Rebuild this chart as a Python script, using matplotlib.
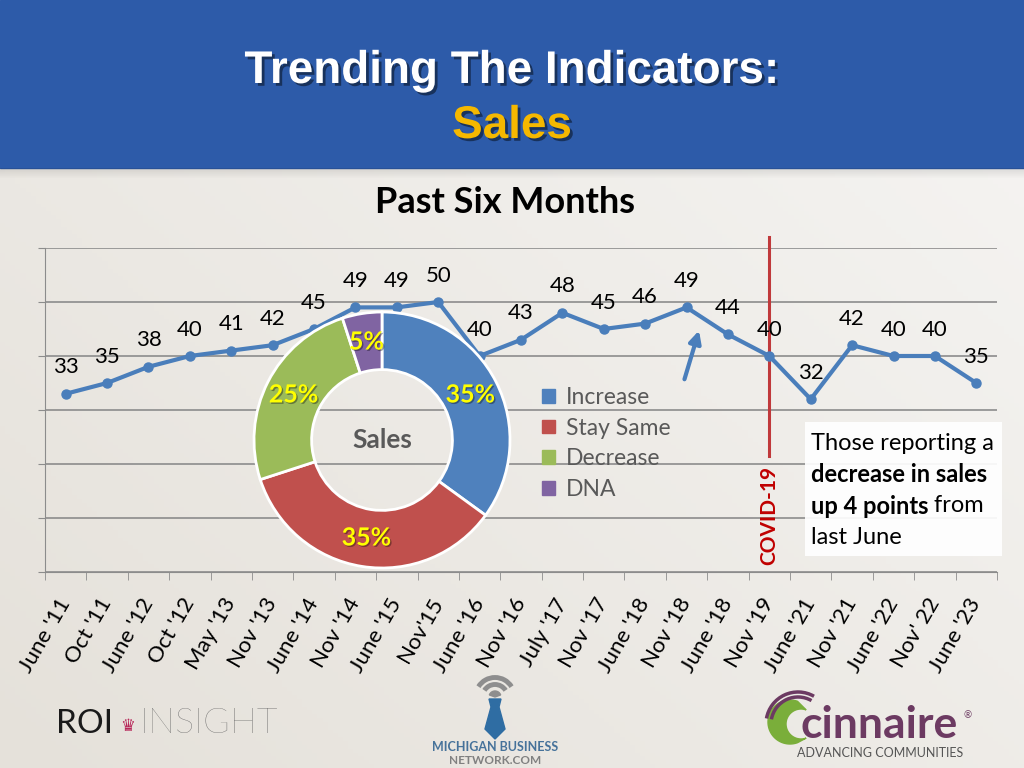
import numpy as np
import matplotlib.pyplot as plt
import matplotlib.patches as mpatches
import matplotlib.patheffects as pe
import matplotlib.transforms as mtransforms
from matplotlib.colors import LinearSegmentedColormap

# Data
periods = ["June '11", "Oct '11", "June '12", "Oct '12", "May '13", "Nov '13",
           "June '14", "Nov '14", "June '15", "Nov'15", "June '16", "Nov '16",
           "July '17", "Nov '17", "June '18", "Nov '18", "June '18", "Nov '19",
           "June '21", "Nov '21", "June '22", "Nov' 22", "June '23"]
increase_pct = [33, 35, 38, 40, 41, 42, 45, 49, 49, 50, 40, 43, 48, 45, 46,
                49, 44, 40, 32, 42, 40, 40, 35]

donut_names = ["Increase", "Stay Same", "Decrease", "DNA"]
donut_pct = [35, 35, 25, 5]
donut_colors = ["#4F81BD", "#C0504D", "#9BBB59", "#8064A2"]

covid_at = "Nov '19"

plt.rcParams['font.family'] = ['Lato', 'DejaVu Sans']
W, H = 1024, 768
fig = plt.figure(figsize=(W/100, H/100), dpi=100)

# slide background, header and logos (pixel coords)
bg = fig.add_axes([0, 0, 1, 1], zorder=-10)
bg.set_xlim(0, W)
bg.set_ylim(H, 0)
bg.axis('off')
yy, xx = np.mgrid[0:1:200j, 0:1:200j]
cmap_bg = LinearSegmentedColormap.from_list('bg', ['#E5E1DA', '#F6F5F3'])
bg.imshow(0.55*xx + 0.45*(1-yy), cmap=cmap_bg, extent=(0, W, H, 0), aspect='auto')

bg.add_patch(mpatches.Rectangle((0, 0), W, 168, color='#2D5BA9'))
for i in range(10):
    bg.add_patch(mpatches.Rectangle((0, 168+i), W, 1, color='black', lw=0, alpha=0.10*(1-i/10)))

shadow = [pe.withSimplePatchShadow(offset=(2, -2), shadow_rgbFace='black', alpha=0.45)]
bg.text(512, 83, 'Trending The Indicators:', family='Liberation Sans', weight='bold',
        size=33, color='white', ha='center', va='baseline', path_effects=shadow)
bg.text(512, 138, 'Sales', family='Liberation Sans', weight='bold',
        size=33, color='#F5B800', ha='center', va='baseline', path_effects=shadow)
bg.text(505, 213, 'Past Six Months', weight='bold', size=26, color='black',
        ha='center', va='baseline')

# ROI insight
bg.text(56, 733, 'ROI', size=24, color='#1a1a1a', va='baseline')
bg.text(128, 731, '\u265B', family='DejaVu Sans', size=12, color='#B8285A', ha='center', va='baseline')
bg.text(140, 733, 'INSIGHT', size=26, weight='light', color='#5f5f5f', va='baseline')

# michigan business network
bg.add_patch(mpatches.Wedge((495, 697), 6, 200, 340, color='#8E8E8E'))
for r in [12.5, 19.5]:
    bg.add_patch(mpatches.Arc((495, 697), 2*r, 2*r, theta1=212, theta2=328, color='#8E8E8E', lw=3.5))
tie = [(489, 699), (501, 699), (499, 707), (505, 729), (495, 739), (485, 729), (491, 707)]
bg.add_patch(mpatches.Polygon(tie, closed=True, color='#2F6DA3'))
bg.text(495, 747, 'MICHIGAN BUSINESS', size=9, weight='bold', color='#46729A', ha='center', va='center')
bg.text(495, 760, 'NETWORK.COM', size=8.5, weight='bold', color='#808080', ha='center', va='center')

# cinnaire
th = np.radians(np.linspace(70, 290, 60))
outer = np.c_[790 + 22*np.cos(th), 722 - 22*np.sin(th)]
inner = np.c_[801 + 15*np.cos(th[::-1]), 724 - 15*np.sin(th[::-1])]
bg.add_patch(mpatches.Polygon(np.r_[outer, inner], closed=True, color='#7AAE3A'))
for r in [27, 32]:
    bg.add_patch(mpatches.Arc((798, 724), 2*r, 2*r, theta1=190, theta2=300, color='#6C3A62', lw=2.5))
bg.text(800, 738, 'cinnaire', size=32, weight='bold', color='#6C3A62', va='baseline')
bg.text(964, 716, '\u00AE', size=7, color='#6C3A62', va='center')
bg.text(880, 753, 'ADVANCING COMMUNITIES', size=9, color='#555555', ha='center', va='center')

# line chart
ax = fig.add_axes([45/W, 1-572/H, 952/W, 324/H])
ax.patch.set_alpha(0)
x = np.arange(len(periods))
ax.plot(x, increase_pct, color='#4A7EBB', lw=3, marker='o', ms=6.5, zorder=3)
for xi, v in zip(x, increase_pct):
    ax.annotate(str(v), (xi, v), xytext=(0, 19), textcoords='offset points',
                ha='center', va='center', fontsize=16, color='black')
ax.set_xlim(-0.5, len(periods)-0.5)
ax.set_ylim(0, 60)
ax.set_yticks(np.arange(0, 61, 10))
ax.set_yticklabels([])
ax.yaxis.grid(True, color='#8C8C8C', lw=1.2)
ax.set_axisbelow(True)
ax.tick_params(axis='y', length=5, color='#8C8C8C')
ax.set_xticks(x)
ax.set_xticklabels(periods, rotation=60, ha='right', va='center', rotation_mode='anchor', fontsize=16)
shift = mtransforms.ScaledTranslation(9/72, 0, fig.dpi_scale_trans)
for lab in ax.get_xticklabels():
    lab.set_transform(lab.get_transform() + shift)
ax.set_xticks(np.arange(-0.5, len(periods)), minor=True)
ax.tick_params(axis='x', which='major', length=0, pad=20)
ax.tick_params(axis='x', which='minor', length=6, color='#8C8C8C')
for s in ['top', 'right']:
    ax.spines[s].set_visible(False)
ax.spines['left'].set_color('#8C8C8C')
ax.spines['bottom'].set_color('#8C8C8C')

ci = periods.index(covid_at)
ax.plot([ci, ci], [21.5, 62], color='#C0393B', lw=2.2, clip_on=False, zorder=2)
ax.text(ci, 10.5, 'COVID-19', rotation=90, ha='center', va='center', color='#C00000',
        fontweight='bold', fontsize=15)
ax.annotate('', xy=(15.32, 45.2), xytext=(14.93, 35.2),
            arrowprops=dict(arrowstyle='-|>', color='#4A7EBB', lw=3, mutation_scale=18))

# donut
dax = fig.add_axes([254/W, 1-568/H, 256/W, 256/H])
wedges, _, autotexts = dax.pie(donut_pct, colors=donut_colors, startangle=90, counterclock=False,
                               radius=1, autopct=lambda p: f'{p:.0f}%', pctdistance=0.775,
                               wedgeprops=dict(width=0.45, edgecolor='white', linewidth=2),
                               textprops=dict(color='#FFFF00', fontweight='bold', fontsize=18))
for w in wedges:
    w.set_clip_on(False)
for t in autotexts:
    t.set_path_effects([pe.withSimplePatchShadow(offset=(1, -1), shadow_rgbFace='black', alpha=0.35)])
dax.text(0, 0, 'Sales', ha='center', va='center', fontsize=19, fontweight='bold', color='#595959')
dax.set_xlim(-1, 1)
dax.set_ylim(-1, 1)
dax.set_aspect('equal')

handles = [mpatches.Patch(color=c, label=n) for c, n in zip(donut_colors, donut_names)]
fig.legend(handles=handles, loc='upper left', bbox_to_anchor=(542/W, 1-387/H), frameon=False,
           fontsize=16.5, labelcolor='#595959', handlelength=0.55, handleheight=0.55,
           handletextpad=0.5, labelspacing=0.42, borderaxespad=0, borderpad=0)

# note box
ov = fig.add_axes([0, 0, 1, 1], zorder=5)
ov.set_xlim(0, W)
ov.set_ylim(H, 0)
ov.axis('off')
ov.add_patch(mpatches.Rectangle((805, 422), 197, 134, color='white', alpha=0.92, lw=0))
ov.text(811, 444, 'Those reporting a', fontsize=17, va='center')
ov.text(811, 475, 'decrease in sales', fontsize=17, fontweight='bold', va='center')
t3 = ov.text(811, 506, 'up 4 points', fontsize=17, fontweight='bold', va='center')
ov.annotate(' from', xy=(1, 0.5), xycoords=t3, fontsize=17, va='center', ha='left')
ov.text(811, 537, 'last June', fontsize=17, va='center')

fig.savefig('out.png', dpi=100)
plt.close(fig)
